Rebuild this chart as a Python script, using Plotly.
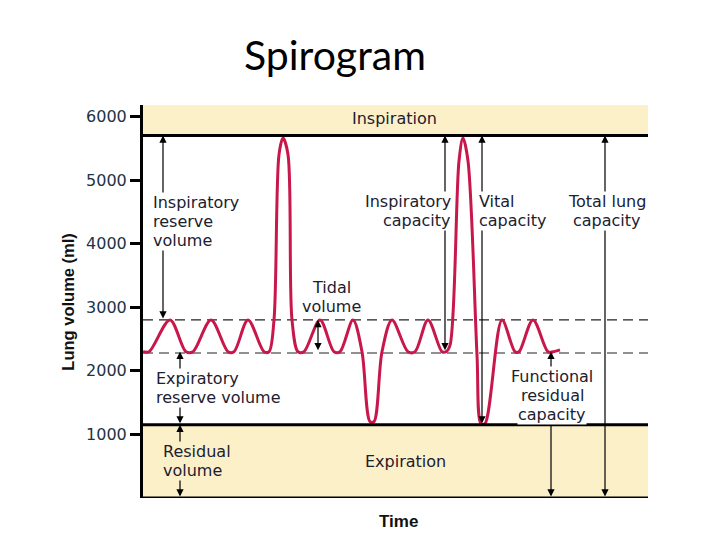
import plotly.graph_objects as go

# Waveform (time in arbitrary units, volume in ml)
time_pts = [0, 6, 27, 43, 50, 68, 85, 91, 105, 121, 126, 131, 136, 140, 145, 149, 155, 161, 177, 191, 197,
            210, 219, 227, 231, 239, 249, 265, 272, 285, 299, 303, 307, 316, 320, 325, 334, 338, 342, 359, 372,
            376, 390, 405, 410, 417]
volume_pts = [2300, 2300, 2800, 2300, 2300, 2800, 2300, 2300, 2800, 2300, 2300, 2800, 5400, 5660, 5400, 2800,
              2300, 2300, 2800, 2300, 2300, 2800, 2300, 1200, 1200, 2300, 2800, 2300, 2300, 2800, 2300, 2300, 2400,
              5300, 5660, 5300, 2250, 1170, 1170, 2800, 2300, 2300, 2800, 2300, 2300, 2330]

inspiration_level = 5700
expiration_level = 1150
tidal_top = 2800
tidal_bottom = 2280
yticks = [1000, 2000, 3000, 4000, 5000, 6000]

# Double-headed arrows: x position, top volume, bottom volume
arrow_x = [20, 37, 37, 175, 302, 339, 462, 408]
arrow_top = [5700, 2300, 1150, 2800, 5700, 5700, 5700, 2300]
arrow_bottom = [2800, 1150, 0, 2300, 2300, 1150, 0, 0]

label_texts = ["Inspiratory<br>reserve<br>volume", "Expiratory<br>reserve volume", "Residual<br>volume",
               "Tidal<br>volume", "Inspiratory<br>capacity", "Vital<br>capacity", "Total lung<br>capacity",
               "Functional<br>residual<br>capacity", "Inspiration", "Expiration"]
label_x = [9, 12, 19, 188, 309, 335, 464, 409, 251, 262]
label_y = [4349, 1722, 576, 3154, 4506, 4506, 4506, 1613, 5969, 576]
label_anchor = ["left", "left", "left", "center", "right", "left", "center", "center", "center", "center"]

XMAX = 505
YMAX = 6180
band = "#FCF0C9"
ink = "#1c2030"
LINE_H = 19

fig = go.Figure()
fig.add_trace(go.Scatter(x=time_pts, y=volume_pts, mode="lines",
                         line=dict(color="#C8174B", width=3, shape="spline", smoothing=0.9),
                         hoverinfo="skip", showlegend=False))

shapes = [
    dict(type="rect", xref="x", yref="y", x0=0, x1=XMAX, y0=inspiration_level, y1=YMAX,
         fillcolor=band, line=dict(width=0), layer="below"),
    dict(type="rect", xref="x", yref="y", x0=0, x1=XMAX, y0=0, y1=expiration_level,
         fillcolor=band, line=dict(width=0), layer="below"),
]
for yv in [inspiration_level, expiration_level, 0]:
    shapes.append(dict(type="line", xref="x", yref="y", x0=0, x1=XMAX, y0=yv, y1=yv,
                       line=dict(color="black", width=3), layer="above"))
for yv in [tidal_top, tidal_bottom]:
    shapes.append(dict(type="line", xref="x", yref="y", x0=0, x1=XMAX, y0=yv, y1=yv,
                       line=dict(color="#222222", width=1.2, dash="10px,6px"), layer="below"))

annotations = []
for xv, yt, yb in zip(arrow_x, arrow_top, arrow_bottom):
    annotations.append(dict(x=xv, y=yt, ax=xv, ay=yb, xref="x", yref="y", axref="x", ayref="y",
                            text="", showarrow=True, arrowhead=2, arrowsize=1.2, arrowwidth=1.2,
                            arrowcolor="black", arrowside="end+start"))
for t, xv, yv, anc in zip(label_texts, label_x, label_y, label_anchor):
    bg = band if t in ("Residual<br>volume", "Expiration", "Inspiration") else "white"
    lines = t.split("<br>")
    n = len(lines)
    for i, ln in enumerate(lines):
        annotations.append(dict(x=xv, y=yv, xref="x", yref="y", text=ln, showarrow=False,
                                xanchor=anc, yanchor="middle", yshift=-(i - (n - 1) / 2) * LINE_H,
                                font=dict(family="DejaVu Sans", size=16, color=ink),
                                bgcolor=bg, borderpad=0))

annotations.append(dict(x=-0.172, y=0.5, xref="paper", yref="paper", text="<b>Lung volume (ml)</b>",
                        textangle=-90, showarrow=False, font=dict(family="Liberation Sans", size=16.5, color="#111")))
annotations.append(dict(x=0.505, y=-0.0895, xref="paper", yref="paper", text="<b>Time</b>",
                        showarrow=False, font=dict(family="Liberation Sans", size=17, color="#111")))
annotations.append(dict(x=0.380, y=1.196, xref="paper", yref="paper", text="Spirogram",
                        showarrow=False, font=dict(family="Lato", size=41, color="black")))

fig.update_layout(
    width=720, height=540,
    margin=dict(l=135, r=80, t=97, b=50),
    paper_bgcolor="white", plot_bgcolor="white",
    shapes=shapes, annotations=annotations, showlegend=False,
    xaxis=dict(range=[0, XMAX], showticklabels=False, ticks="", showgrid=False, zeroline=False, showline=False),
    yaxis=dict(range=[0, YMAX], tickvals=yticks, ticks="outside", ticklen=10, tickwidth=3, tickcolor="black",
               showline=True, linewidth=3, linecolor="black", showgrid=False, zeroline=False,
               tickfont=dict(family="DejaVu Sans", size=16, color="#1d3346")),
)
fig.write_html("out.html")
